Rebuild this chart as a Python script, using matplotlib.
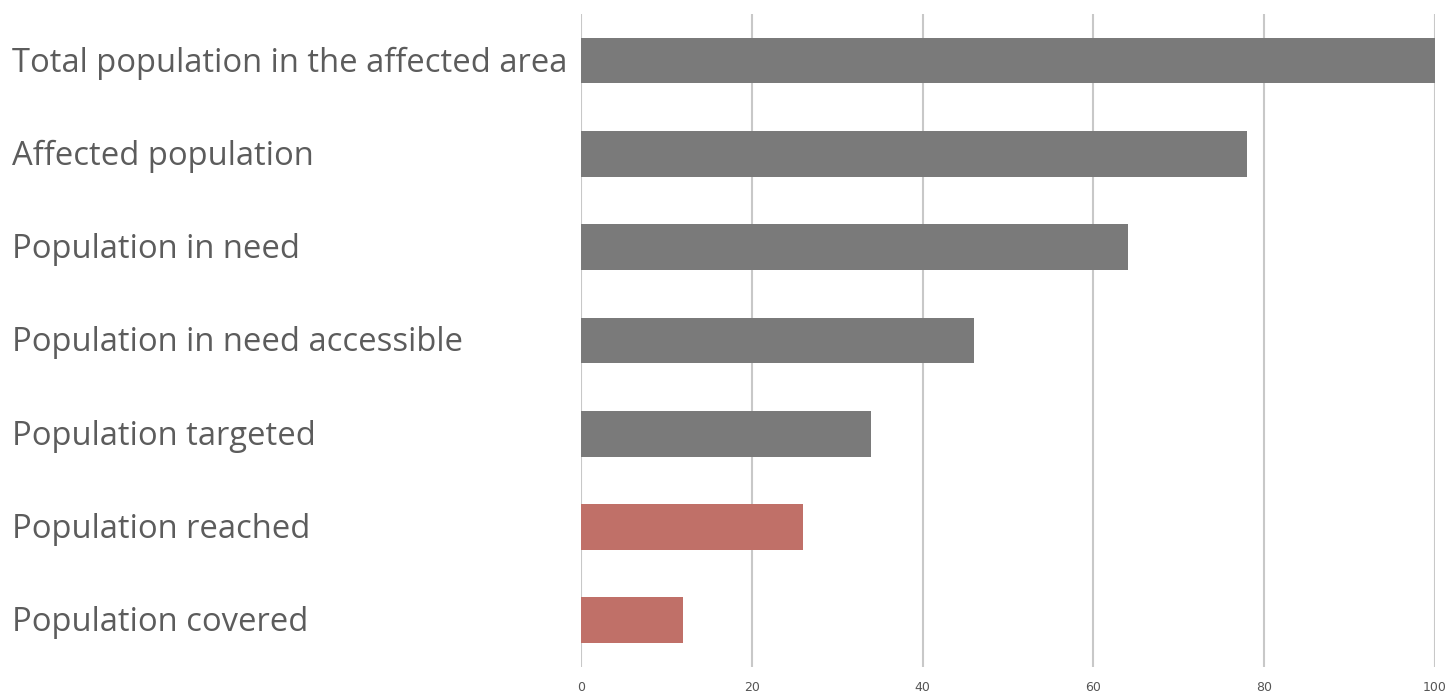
import matplotlib
matplotlib.use("Agg")
import matplotlib.pyplot as plt
from matplotlib import transforms

categories = [
    "Total population in the affected area",
    "Affected population",
    "Population in need",
    "Population in need accessible",
    "Population targeted",
    "Population reached",
    "Population covered",
]
values = [100, 78, 64, 46, 34, 26, 12]
bar_colors = ["#7a7a7a"] * 5 + ["#c07068"] * 2
x_ticks = [0, 20, 40, 60, 80, 100]

fig = plt.figure(figsize=(14.52, 6.95), dpi=100)
ax = fig.add_axes([0.4001, 0.0403, 0.5882, 0.9396])

y = list(range(len(categories)))
ax.barh(y, values, height=0.49, color=bar_colors, zorder=2)
ax.set_ylim(len(categories) - 0.5, -0.5)
ax.set_xlim(0, 100)
ax.set_xticks(x_ticks)
ax.set_xticklabels([str(t) for t in x_ticks], fontsize=9, color="#555555", family="DejaVu Sans")
ax.set_yticks(y)
ax.set_yticklabels([])
ax.tick_params(axis="both", length=0)
ax.tick_params(axis="x", pad=10)

label_tr = transforms.blended_transform_factory(fig.transFigure, ax.transData) + \
    transforms.ScaledTranslation(0, -11 / 100, fig.dpi_scale_trans)
for yi, cat in zip(y, categories):
    ax.text(12 / 1452, yi, cat, transform=label_tr,
            ha="left", va="baseline", fontsize=23.6, color="#5c5c5c", family="Open Sans")
ax.grid(axis="x", color="#c8c8c8", linewidth=1.5, zorder=0)
ax.grid(axis="y", visible=False)
for s in ax.spines.values():
    s.set_visible(False)

fig.savefig("out.png", dpi=100)
